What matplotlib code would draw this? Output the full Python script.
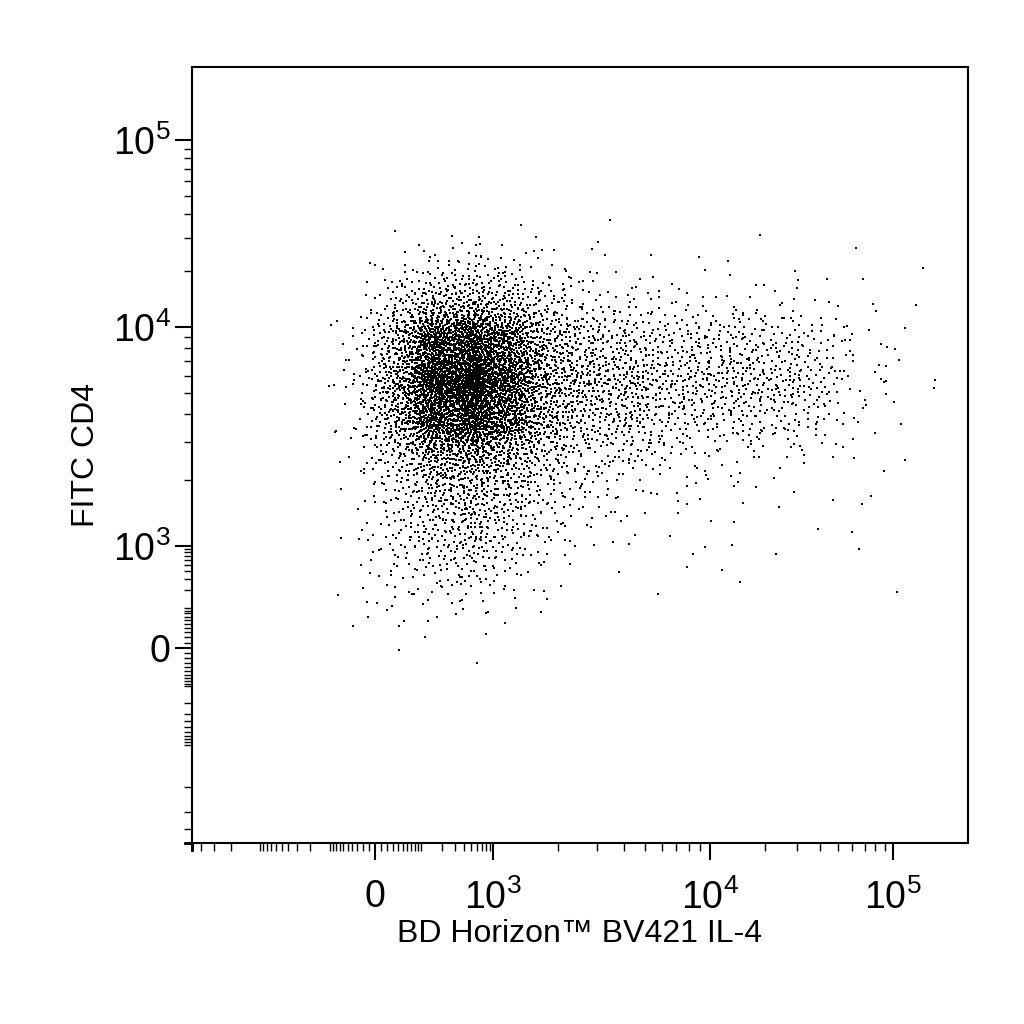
import numpy as np
import matplotlib
matplotlib.use("Agg")
import matplotlib.pyplot as plt

plt.rcParams['font.family'] = ['Liberation Sans', 'DejaVu Sans']
plt.rcParams['mathtext.fontset'] = 'custom'
plt.rcParams['mathtext.rm'] = 'Liberation Sans'

# density of events: counts per (y bin, x bin)
x_edges = [-83, 0, 80, 300, 1000, 1480, 2270, 3460, 5320, 10000, 21000, 45000, 110000]
y_edges = [0, 140, 600, 1310, 2000, 3040, 4620, 7030, 10900, 18000, 29000]
counts = [
    [3, 3, 4, 3, 2, 0, 0, 0, 0, 0, 0, 0],
    [2, 15, 25, 25, 15, 3, 0, 0, 3, 1, 1, 1],
    [2, 25, 60, 70, 40, 15, 5, 3, 3, 1, 1, 2],
    [2, 30, 80, 100, 60, 30, 15, 10, 8, 3, 3, 2],
    [4, 50, 150, 160, 100, 60, 30, 25, 20, 10, 8, 2],
    [6, 120, 450, 500, 300, 120, 80, 70, 70, 60, 45, 10],
    [8, 150, 600, 650, 400, 160, 110, 100, 110, 110, 90, 15],
    [6, 110, 450, 500, 300, 120, 70, 60, 80, 70, 60, 12],
    [2, 30, 100, 110, 70, 40, 20, 12, 12, 10, 10, 6],
    [0, 4, 12, 12, 10, 6, 3, 2, 2, 2, 1, 1],
]

# biexponential-like axis knots (value -> relative position)
x_knot_v = [-5000, -1000, 0, 1000, 1e4, 1e5, 1e6]
x_knot_p = [192, 260, 375, 493, 710, 893, 1076]
y_knot_v = [-5000, -1000, 0, 1000, 1e4, 1e5, 1e6]
y_knot_p = [-843, -745, -648, -546, -327, -140, 47]

def make_scale(kv, kp):
    ku = np.arcsinh(np.array(kv) / 50.0)
    def fwd(v):
        return np.interp(np.arcsinh(np.asarray(v, float) / 50.0), ku, kp)
    def inv(p):
        return 50.0 * np.sinh(np.interp(np.asarray(p, float), kp, ku))
    return fwd, inv

fx, ix = make_scale(x_knot_v, x_knot_p)
fy, iy = make_scale(y_knot_v, y_knot_p)

# spread each cell's events around its centre on a low-discrepancy pattern
xs, ys = [], []
n = 0
for r, row in enumerate(counts):
    for c, k in enumerate(row):
        px0, px1 = fx(x_edges[c]), fx(x_edges[c + 1])
        py0, py1 = fy(y_edges[r]), fy(y_edges[r + 1])
        cx, cy = (px0 + px1) / 2, (py0 + py1) / 2
        sx, sy = 0.45 * abs(px1 - px0), 0.45 * abs(py1 - py0)
        for _ in range(k):
            n += 1
            a = (0.5 + n * 0.7548776662) % 1
            b = (0.5 + n * 0.5698402910) % 1
            rad = np.sqrt(-2 * np.log(1 - a * 0.999))
            xs.append(ix(cx + sx * rad * np.cos(2 * np.pi * b)))
            ys.append(iy(cy + sy * rad * np.sin(2 * np.pi * b)))

fig = plt.figure(figsize=(10.24, 10.24), dpi=100)
ax = fig.add_axes([192 / 1024, 1 - 843 / 1024, 776 / 1024, 776 / 1024])
ax.set_xscale("function", functions=(fx, ix))
ax.set_yscale("function", functions=(fy, iy))
ax.scatter(xs, ys, s=4, marker="s", c="black", linewidths=0)
ax.set_xlim(ix(192), ix(968))
ax.set_ylim(iy(-843), iy(-67))

majors = [0, 1e3, 1e4, 1e5]
labels = ["0", r"$10^3$", r"$10^4$", r"$10^5$"]
minors = [s * k * 10 ** d for s in (-1, 1) for d in (1, 2, 3, 4) for k in range(1, 10)]
ax.set_xticks(majors, labels)
ax.set_yticks(majors, labels)
ax.set_xticks(minors, minor=True)
ax.set_yticks(minors, minor=True)
ax.tick_params(which="major", length=12, width=1.5, labelsize=27, direction="out")
ax.tick_params(axis="x", which="major", pad=14)
ax.tick_params(which="minor", length=6, width=1, direction="out")
for s in ax.spines.values():
    s.set_linewidth(1.5)
ax.set_xlabel("BD Horizon™ BV421 IL-4", fontsize=23, labelpad=2)
ax.set_ylabel("FITC CD4", fontsize=23, labelpad=8)
fig.savefig("out.png", dpi=100)
